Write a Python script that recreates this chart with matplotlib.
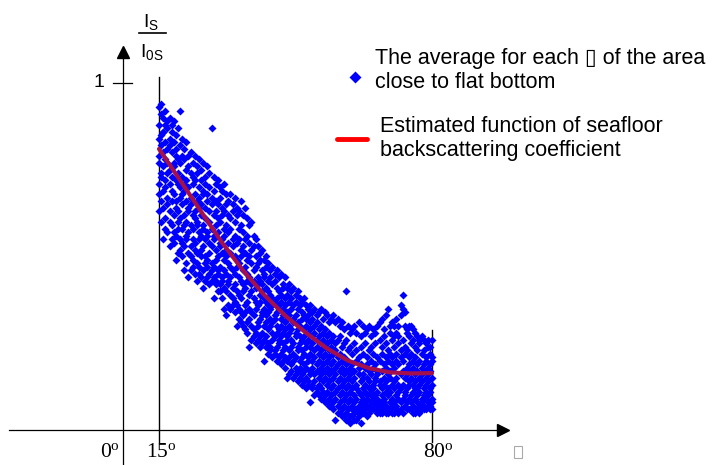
import numpy as np
import matplotlib.pyplot as plt
from matplotlib.patches import Rectangle

# scatter: incidence angle (deg) and normalised intensity Is/I0s (in hundredths)
theta = [15.0, 15.5, 16.0, 16.5, 17.0, 17.5, 18.0, 18.5, 19.0, 19.5,
         20.0, 20.5, 21.0, 21.5, 22.0, 22.5, 23.0, 23.5, 24.0, 24.5,
         25.0, 25.5, 26.0, 26.5, 27.0, 27.5, 28.0, 28.5, 29.0, 29.5,
         30.0, 30.5, 31.0, 31.5, 32.0, 32.5, 33.0, 33.5, 34.0, 34.5,
         35.0, 35.5, 36.0, 36.5, 37.0, 37.5, 38.0, 38.5, 39.0, 39.5,
         40.0, 40.5, 41.0, 41.5, 42.0, 42.5, 43.0, 43.5, 44.0, 44.5,
         45.0, 45.5, 46.0, 46.5, 47.0, 47.5, 48.0, 48.5, 49.0, 49.5,
         50.0, 50.5, 51.0, 51.5, 52.0, 52.5, 53.0, 53.5, 54.0, 54.5,
         55.0, 55.5, 56.0, 56.5, 57.0, 57.5, 58.0, 58.5, 59.0, 59.5,
         60.0, 60.5, 61.0, 61.5, 62.0, 62.5, 63.0, 63.5, 64.0, 64.5,
         65.0, 65.5, 66.0, 66.5, 67.0, 67.5, 68.0, 68.5, 69.0, 69.5,
         70.0, 70.5, 71.0, 71.5, 72.0, 72.5, 73.0, 73.5, 74.0, 74.5,
         75.0, 75.5, 76.0, 76.5, 77.0, 77.5, 78.0, 78.5, 79.0, 79.5,
         80.0]
ratio = [
    [93, 88, 84, 79, 77, 71, 68, 63], [94, 91, 85, 82, 74, 73, 66, 60],
    [90, 86, 86, 80, 76, 69, 64, 55], [92, 88, 83, 78, 72, 70, 61, 58],
    [87, 89, 81, 77, 74, 67, 65, 57], [90, 84, 82, 75, 71, 63, 60, 53],
    [86, 88, 80, 73, 69, 66, 59, 55], [89, 83, 77, 76, 68, 62, 57, 54],
    [85, 81, 79, 72, 66, 64, 56, 49], [87, 78, 74, 71, 63, 60, 58, 51],
    [92, 82, 77, 70, 67, 61, 55, 52], [84, 79, 73, 68, 65, 58, 54, 50],
    [81, 78, 71, 69, 62, 59, 53, 46], [83, 75, 72, 66, 60, 56, 55, 48],
    [79, 76, 70, 64, 63, 57, 51, 44], [80, 74, 67, 65, 59, 53, 50, 46],
    [77, 73, 71, 62, 58, 55, 49, 47], [79, 72, 68, 63, 61, 54, 52, 45],
    [76, 74, 66, 60, 59, 51, 48, 43], [78, 70, 67, 64, 57, 55, 47, 45],
    [75, 72, 65, 62, 56, 52, 50, 44], [77, 69, 68, 59, 58, 53, 46, 41],
    [73, 71, 64, 61, 55, 50, 48, 43], [76, 68, 66, 57, 56, 49, 47, 44],
    [74, 70, 63, 60, 54, 51, 45, 42], [87, 67, 65, 58, 53, 48, 46, 43],
    [73, 69, 62, 56, 55, 47, 44, 38], [71, 66, 63, 59, 52, 49, 43, 42],
    [72, 65, 61, 57, 50, 46, 45, 40], [70, 67, 60, 54, 53, 47, 42, 40],
    [69, 64, 62, 55, 51, 44, 43, 38], [71, 63, 58, 56, 49, 46, 41, 35],
    [68, 65, 59, 52, 50, 45, 40, 33], [66, 62, 57, 54, 48, 43, 42, 36],
    [68, 61, 58, 51, 47, 44, 39, 35], [65, 63, 55, 53, 46, 41, 38, 36],
    [67, 60, 56, 50, 45, 42, 37, 34], [64, 62, 54, 49, 47, 40, 36, 30],
    [63, 58, 55, 48, 44, 39, 35, 32], [66, 59, 52, 50, 43, 38, 34, 31],
    [62, 57, 53, 46, 42, 40, 33, 30], [64, 55, 51, 47, 41, 36, 34, 29],
    [61, 56, 49, 45, 43, 37, 31, 28], [59, 54, 50, 44, 39, 35, 32, 24],
    [60, 52, 48, 42, 40, 34, 30, 26], [56, 53, 46, 43, 38, 33, 29, 27],
    [55, 50, 47, 41, 37, 35, 28, 25], [53, 48, 44, 42, 36, 31, 30, 26],
    [51, 49, 43, 39, 37, 32, 27, 24], [52, 46, 42, 40, 34, 33, 28, 25],
    [49, 45, 44, 38, 35, 30, 26, 20], [50, 47, 41, 37, 33, 31, 27, 24],
    [48, 43, 40, 36, 34, 29, 25, 22], [46, 44, 39, 35, 32, 30, 24, 23],
    [47, 42, 38, 36, 31, 28, 26, 21], [45, 43, 37, 33, 32, 27, 23, 22],
    [46, 41, 38, 34, 30, 28, 24, 20], [44, 40, 36, 35, 29, 26, 25, 21],
    [45, 39, 37, 32, 30, 27, 22, 19], [42, 41, 35, 33, 28, 25, 23, 20],
    [44, 38, 36, 31, 29, 24, 21, 18], [41, 39, 34, 32, 27, 26, 20, 15],
    [42, 37, 33, 30, 28, 23, 21, 16], [40, 38, 35, 29, 26, 24, 19, 17],
    [41, 36, 32, 31, 25, 22, 20, 15], [39, 37, 33, 28, 27, 21, 18, 16],
    [40, 35, 31, 29, 24, 23, 17, 14], [38, 36, 30, 27, 25, 20, 18, 15],
    [37, 34, 32, 26, 23, 21, 16, 13], [38, 33, 29, 27, 22, 19, 17, 14],
    [36, 32, 30, 25, 24, 18, 15, 12], [35, 33, 28, 26, 21, 20, 14, 13],
    [36, 31, 29, 24, 22, 17, 16, 8], [34, 32, 27, 25, 20, 18, 13, 12],
    [35, 30, 28, 23, 21, 16, 14, 10], [33, 31, 26, 24, 19, 17, 12, 11],
    [34, 29, 27, 22, 20, 15, 13, 10], [35, 30, 25, 23, 18, 16, 12, 9],
    [32, 28, 26, 21, 19, 14, 11, 9], [34, 29, 24, 22, 17, 15, 10, 8],
    [33, 27, 25, 20, 18, 13, 11, 8], [31, 28, 23, 21, 16, 14, 9, 7],
    [32, 26, 24, 19, 17, 12, 10, 7], [33, 27, 22, 20, 15, 13, 8, 6],
    [31, 25, 23, 18, 16, 11, 9, 3], [32, 26, 21, 19, 14, 12, 7, 5],
    [30, 27, 22, 17, 15, 10, 8, 5], [31, 24, 20, 18, 13, 11, 6, 4],
    [29, 25, 21, 16, 14, 9, 7, 4], [40, 26, 19, 17, 12, 10, 5, 3],
    [30, 23, 20, 15, 13, 8, 6, 3], [28, 24, 18, 16, 11, 9, 4, 2],
    [29, 22, 19, 14, 12, 7, 6, 4], [30, 25, 17, 15, 10, 8, 5, 3],
    [28, 23, 20, 13, 12, 9, 6, 3], [31, 21, 18, 16, 11, 7, 5, 4],
    [27, 24, 19, 14, 10, 8, 6, 2], [30, 22, 16, 15, 12, 9, 7, 5],
    [28, 25, 18, 13, 11, 8, 6, 5], [29, 21, 19, 15, 10, 9, 7, 4],
    [30, 23, 17, 14, 12, 7, 6, 5], [27, 24, 20, 16, 11, 10, 8, 6],
    [29, 22, 18, 13, 12, 9, 7, 6], [28, 25, 19, 15, 14, 10, 8, 6],
    [30, 21, 17, 16, 11, 9, 7, 5], [31, 26, 20, 14, 13, 8, 6, 5],
    [32, 24, 22, 17, 12, 10, 7, 5], [29, 27, 19, 15, 13, 9, 8, 6],
    [33, 25, 21, 18, 14, 11, 7, 5], [35, 23, 20, 16, 12, 10, 6, 5],
    [30, 28, 22, 17, 15, 11, 8, 6], [31, 26, 21, 19, 13, 9, 7, 5],
    [30, 27, 24, 18, 14, 12, 8, 5], [32, 28, 22, 20, 15, 10, 7, 6],
    [30, 27, 25, 19, 13, 11, 9, 5], [36, 33, 23, 21, 16, 12, 8, 6],
    [39, 35, 26, 20, 17, 13, 9, 5], [34, 30, 24, 22, 15, 11, 10, 7],
    [29, 28, 23, 18, 16, 12, 8, 6], [30, 27, 21, 19, 14, 13, 9, 6],
    [30, 25, 22, 17, 15, 10, 8, 6], [29, 26, 20, 18, 13, 11, 7, 5],
    [28, 24, 21, 16, 14, 12, 9, 5], [27, 23, 19, 17, 12, 10, 8, 6],
    [26, 25, 20, 15, 13, 11, 7, 5], [27, 22, 18, 16, 14, 9, 8, 6],
    [26, 23, 19, 17, 12, 10, 7, 6], [25, 21, 20, 15, 13, 11, 9, 6],
    [26, 24, 18, 16, 14, 10, 8, 7], [24, 22, 19, 17, 12, 11, 7, 6],
    [26, 21, 20, 15, 13, 9, 8, 6],
]

# estimated backscattering function
fit_theta = [15, 20, 25, 30, 35, 40, 45, 50, 55, 60, 65, 70, 75, 80]
fit_ratio = [0.81, 0.72, 0.63, 0.54, 0.46, 0.39, 0.33, 0.28, 0.235, 0.20,
             0.178, 0.166, 0.163, 0.164]

fig = plt.figure(figsize=(7.19, 4.65), dpi=100)
ax = fig.add_axes([0, 0, 1, 1])
ax.axis('off')

# data limits chosen so that 15 deg / 80 deg and 0 / 1 sit where the sketch has them
ax.set_xlim(-22.86, 148.33)
ax.set_ylim(-0.1009, 1.2392)

sx = []
sy = []
for t, col in zip(theta, ratio):
    for v in col:
        sx.append(t)
        sy.append(v / 100)
ax.plot(sx, sy, 'D', color='#0000ff', ms=4.2, mec='none', zorder=3)

ax.plot(fit_theta, fit_ratio, color='#a3104c', lw=3, zorder=4, solid_capstyle='round')

# hand-drawn style axes
k = 'black'
ax.plot([-20.6, 96.5], [0, 0], color=k, lw=0.9)
ax.plot([96.8], [0], marker='>', color=k, ms=8, clip_on=False)
ax.plot([6.43, 6.43], [-0.1, 1.08], color=k, lw=0.9)
ax.plot([6.43], [1.088], marker='^', color=k, ms=8)
ax.plot([4.05, 8.57], [1, 1], color=k, lw=0.9)
ax.plot([15, 15], [-0.035, 1.017], color=k, lw=1)
ax.plot([80, 80], [-0.035, 0.288], color=k, lw=1)

serif = 'Liberation Serif'
ax.text(3.3, -0.066, r'0$\mathregular{^o}$', family=serif, fontsize=15.5, ha='center', va='center')
ax.text(15.5, -0.066, r'15$\mathregular{^o}$', family=serif, fontsize=15.5, ha='center', va='center')
ax.text(81.4, -0.066, r'80$\mathregular{^o}$', family=serif, fontsize=15.5, ha='center', va='center')
# missing-glyph box where the theta symbol should be
ax.add_patch(Rectangle((99.6, -0.08), 1.8, 0.034, fill=False, ec='#aaaaaa', lw=0.8))

sans = ['Liberation Sans', 'DejaVu Sans']
ax.text(2.1, 1.0, '1', family=sans, fontsize=14, ha='right', va='center')
ax.text(13.2, 1.175, r'I$\mathregular{_S}$', family=sans, fontsize=14, ha='center', va='center')
ax.plot([10.24, 16.67], [1.143, 1.143], color=k, lw=1.2)
ax.text(13.2, 1.088, r'I$\mathregular{_{0S}}$', family=sans, fontsize=14, ha='center', va='center')

# legend
ax.plot([61.7], [1.017], 'D', color='#0000ff', ms=6.5, mec='none')
ax.text(66.4, 1.072, 'The average for each \u25af of the area', family=sans, fontsize=15.5, va='center')
ax.text(66.4, 1.0, 'close to flat bottom', family=sans, fontsize=15.5, va='center')
ax.plot([57.4, 64.5], [0.839, 0.839], color='#ff0000', lw=3.5, solid_capstyle='round')
ax.text(67.6, 0.876, 'Estimated function of seafloor', family=sans, fontsize=15.5, va='center')
ax.text(67.6, 0.805, 'backscattering coefficient', family=sans, fontsize=15.5, va='center')

fig.savefig('out.png', dpi=100)
